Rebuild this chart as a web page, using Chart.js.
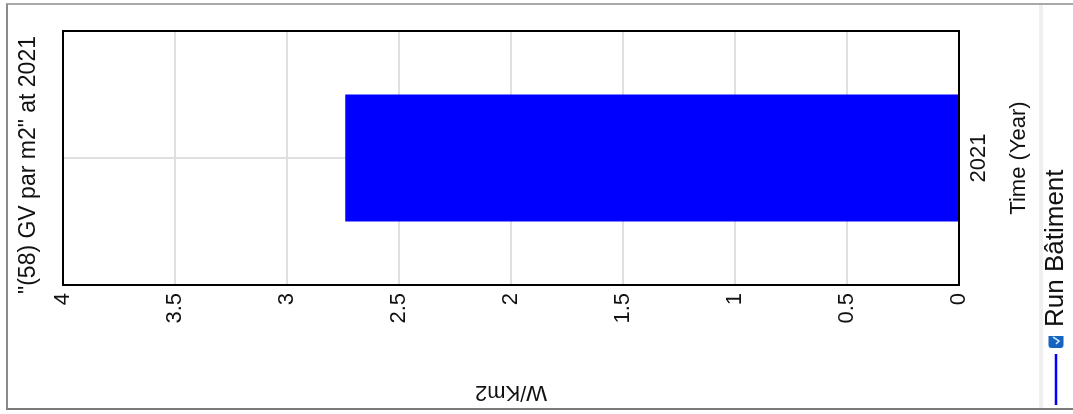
<!DOCTYPE html>
<html><head><meta charset="utf-8">
<script src="https://cdn.jsdelivr.net/npm/chart.js@4.4.1/dist/chart.umd.min.js"></script>
<style>
html,body{margin:0;padding:0;overflow:hidden;background:#fff;width:1073px;height:414px}
#frame{position:absolute;left:6px;top:3px;width:1075px;height:403px;border-left:2px solid #8a8a8a;border-top:2px solid #a8a8a8;border-bottom:2px solid #7a7a7a;}
#sep{position:absolute;left:1039px;top:5px;width:4px;height:403px;background:#efefef}
#wrap{position:absolute;left:0;top:0;width:414px;height:1100px;transform-origin:0 0;transform:translateY(414px) rotate(-90deg)}
</style></head><body>
<div id="frame"></div><div id="sep"></div>
<div id="wrap"><canvas id="c" width="414" height="1100"></canvas></div>
<script>
// ---- data ----
const categories = ['2021'];
const seriesName = 'Run Bâtiment';
const seriesValues = [2.74];
const valueMin = 0;
const valueMax = 4;
const valueStep = 0.5;
const chartTitle = '"(58) GV par m2" at 2021';
const categoryTitle = 'Time (Year)';
const valueTitle = 'W/Km2';

// ---- styling ----
const FONT = "'Liberation Sans', Arial, sans-serif";
Chart.defaults.font.family = FONT;
Chart.defaults.color = '#111';

// legend icon: line + checkbox
const legendIcon = document.createElement('canvas');
legendIcon.width = 74; legendIcon.height = 16;
(function(){
  const g = legendIcon.getContext('2d');
  g.strokeStyle = '#0000ff'; g.lineWidth = 2.5;
  g.beginPath(); g.moveTo(5, 8); g.lineTo(56, 8); g.stroke();
  g.fillStyle = '#1565c0';
  g.beginPath();
  if (g.roundRect) g.roundRect(62, 0.5, 15, 15, 3); else g.rect(62, 0.5, 15, 15);
  g.fill();
  g.strokeStyle = '#d6e8ff'; g.lineWidth = 1.5;
  g.beginPath(); g.moveTo(66, 8); g.lineTo(69, 11); g.lineTo(73, 5); g.stroke();
})();

const plotFrame = {
  id: 'plotFrame',
  afterDatasetsDraw(chart) {
    const {ctx, chartArea: a} = chart;
    ctx.save();
    ctx.strokeStyle = '#000'; ctx.lineWidth = 2;
    ctx.strokeRect(a.left, a.top, a.right - a.left, a.bottom - a.top);
    ctx.restore();
  }
};
const titleShift = {
  id: 'titleShift',
  afterLayout(chart) {
    if (chart.titleBlock) { chart.titleBlock.left -= 14; }
  }
};

new Chart(document.getElementById('c'), {
  type: 'bar',
  data: {
    labels: categories,
    datasets: [{
      label: seriesName,
      data: seriesValues,
      backgroundColor: '#0000ff',
      borderWidth: 0,
      categoryPercentage: 1,
      barPercentage: 0.5
    }]
  },
  options: {
    responsive: false,
    animation: false,
    devicePixelRatio: 1,
    layout: { padding: { left: 0, right: 31, top: 0, bottom: 21 } },
    plugins: {
      title: {
        display: true, text: chartTitle, fullSize: false, color: '#111',
        font: { size: 23, weight: 'normal' }, padding: { top: 15, bottom: 20.4 }
      },
      legend: {
        position: 'bottom', align: 'start',
        labels: {
          usePointStyle: true, pointStyle: legendIcon, pointStyleWidth: 66,
          font: { size: 26 }, padding: 8, color: '#111'
        }
      },
      tooltip: { enabled: false }
    },
    scales: {
      x: {
        grid: { offset: false, color: '#e0e0e0', lineWidth: 2, drawTicks: false },
        border: { color: '#000', width: 2 },
        ticks: { font: { size: 22 }, color: '#111', padding: 7, maxRotation: 0 },
        title: { display: true, text: categoryTitle, color: '#111', font: { size: 22 }, padding: { top: 2, bottom: 2.8 } },
        afterFit(s) { s.height = 76; }
      },
      y: {
        min: valueMin, max: valueMax,
        grid: { color: '#e0e0e0', lineWidth: 2, drawTicks: false },
        border: { color: '#000', width: 2 },
        ticks: { stepSize: valueStep, font: { size: 22 }, color: '#111', padding: 8,
                 callback: (v) => String(v) },
        title: { display: true, text: valueTitle, color: '#111', font: { size: 22 }, padding: { top: 9, bottom: 4 } },
        afterFit(s) { s.width = 129; }
      }
    }
  },
  plugins: [plotFrame, titleShift]
});
</script>
</body></html>
